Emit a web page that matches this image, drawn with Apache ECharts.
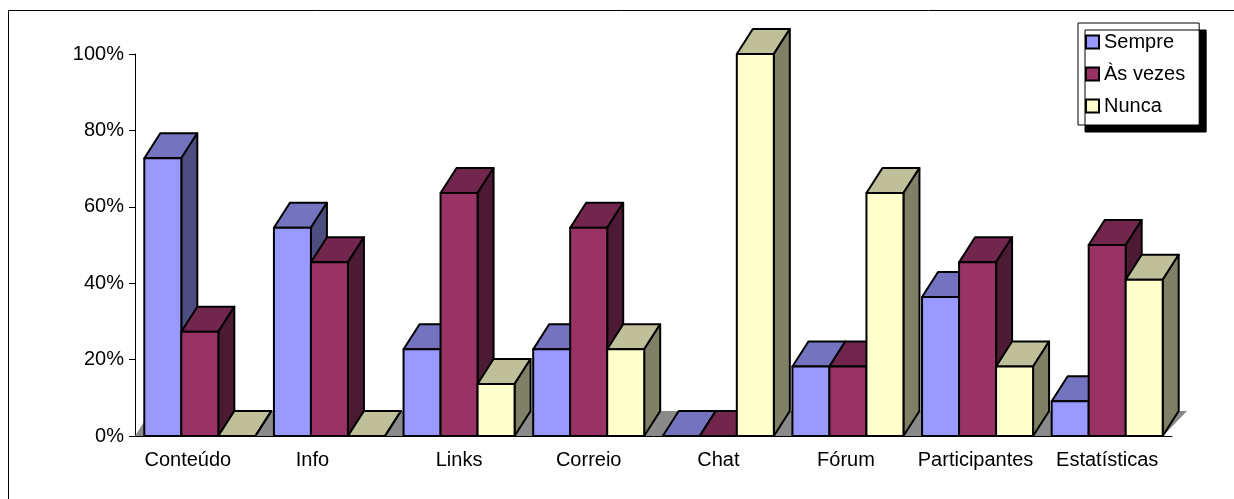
<!DOCTYPE html>
<html><head><meta charset="utf-8">
<script src="https://cdn.jsdelivr.net/npm/echarts@6/dist/echarts.min.js"></script>
<style>html,body{margin:0;padding:0;background:#fff}#c{width:1234px;height:499px}</style>
</head><body><div id="c"></div>
<script>
const categories = ['Conteúdo','Info','Links','Correio','Chat','Fórum','Participantes','Estatísticas'];
const seriesNames = ['Sempre','Às vezes','Nunca'];
const sempre  = [72.7, 54.5, 22.7, 22.7, 0, 18.2, 36.4, 9.1];
const asVezes = [27.3, 45.5, 63.6, 54.5, 0, 18.2, 45.5, 50.0];
const nunca   = [0, 0, 13.6, 22.7, 100, 63.6, 18.2, 40.9];
const yTicks = [0, 20, 40, 60, 80, 100];

const FONT = 'Liberation Sans, Arial, sans-serif';
const frontColors = ['#9999FF', '#993366', '#FFFFCC'];
const BAR_FRAC = 0.2855, DX = 16, DY = 25;
// small horizontal label shifts (px, left) seen in the reference
const labelShift = {0: 12, 1: 17, 5: 2, 6: 2};

function shade(hex, f){
  const n = parseInt(hex.slice(1), 16);
  const r = Math.round(((n>>16)&255)*f), g = Math.round(((n>>8)&255)*f), b = Math.round((n&255)*f);
  return 'rgb(' + r + ',' + g + ',' + b + ')';
}

function barRender(si){
  const front = frontColors[si], top = shade(front, 0.75), side = shade(front, 0.5);
  return function(params, api){
    const c = api.value(0), v = api.value(1);
    const p0 = api.coord([c, 0]), p1 = api.coord([c, v]);
    const band = api.size([1, 0])[0];
    const bw = band * BAR_FRAC;
    const x0 = p0[0] - 1.5 * bw + si * bw, x1 = x0 + bw;
    const yb = p0[1], yt = p1[1];
    const st = {stroke: '#000', lineWidth: 2, lineJoin: 'round'};
    return {type: 'group', children: [
      {type: 'polygon', shape: {points: [[x0, yt], [x1, yt], [x1 + DX, yt - DY], [x0 + DX, yt - DY]]}, style: Object.assign({}, st, {fill: top})},
      {type: 'polygon', shape: {points: [[x1, yt], [x1 + DX, yt - DY], [x1 + DX, yb - DY], [x1, yb]]}, style: Object.assign({}, st, {fill: side})},
      {type: 'rect', shape: {x: x0, y: yt, width: bw, height: yb - yt}, style: Object.assign({}, st, {fill: front})}
    ]};
  };
}

function floorRender(params, api){
  const cs = params.coordSys;
  const yb = cs.y + cs.height;
  const xl = cs.x, xr = cs.x + cs.width - 9;
  return {type: 'polygon', shape: {points: [[xl, yb], [xr, yb], [xr + 24, yb - 25], [xl + 16, yb - 25]]},
    style: {fill: '#8a8a8a', stroke: null}};
}

const valueSets = [sempre, asVezes, nunca];
const series = [{
  type: 'custom', name: '_floor', z: 1, silent: true, renderItem: floorRender,
  data: [[0, 0]], encode: {x: 0, y: 1}, clip: false
}];
valueSets.forEach(function(vals, si){
  series.push({
    type: 'custom', name: seriesNames[si], z: 2, renderItem: barRender(si),
    itemStyle: {color: frontColors[si]},
    data: vals.map(function(v, i){ return [i, v]; }),
    encode: {x: 0, y: 1}, clip: false
  });
});

const rich = {};
Object.keys(labelShift).forEach(function(k){
  rich['s' + k] = {fontFamily: FONT, fontSize: 20, color: '#000', padding: [0, 2 * labelShift[k], 0, 0]};
});

const chart = echarts.init(document.getElementById('c'));
chart.setOption({
  animation: false,
  backgroundColor: '#fff',
  grid: {left: 135, right: 62, top: 54, bottom: 63},
  xAxis: {
    type: 'category', data: categories, boundaryGap: true,
    axisLine: {show: true, lineStyle: {color: '#000', width: 1}},
    axisTick: {show: false},
    axisLabel: {
      fontFamily: FONT, fontSize: 20, color: '#000', margin: 14, interval: 0,
      formatter: function(val, idx){ return labelShift[idx] ? '{s' + idx + '|' + val + '}' : val; },
      rich: rich
    }
  },
  yAxis: {
    type: 'value', min: yTicks[0], max: yTicks[yTicks.length - 1], interval: yTicks[1] - yTicks[0],
    axisLine: {show: true, lineStyle: {color: '#000', width: 1}},
    axisTick: {show: true, length: 6, lineStyle: {color: '#000'}},
    splitLine: {show: false},
    axisLabel: {fontFamily: FONT, fontSize: 20, color: '#000', margin: 11, formatter: '{value}%'}
  },
  legend: {
    orient: 'vertical', left: 1078, top: 23, padding: [9, 14, 9, 7],
    itemWidth: 13, itemHeight: 13, itemGap: 12, icon: 'rect',
    backgroundColor: '#fff', borderColor: '#000', borderWidth: 1,
    shadowColor: '#000', shadowOffsetX: 7, shadowOffsetY: 7, shadowBlur: 0,
    itemStyle: {borderColor: '#000', borderWidth: 2},
    textStyle: {fontFamily: FONT, fontSize: 20, color: '#000'},
    data: seriesNames
  },
  graphic: [{
    type: 'rect', x: 0, y: 0, z: 0, silent: true,
    shape: {x: 8.5, y: 10.5, width: 1400, height: 700},
    style: {fill: null, stroke: '#000', lineWidth: 1}
  }],
  series: series
});
</script></body></html>
